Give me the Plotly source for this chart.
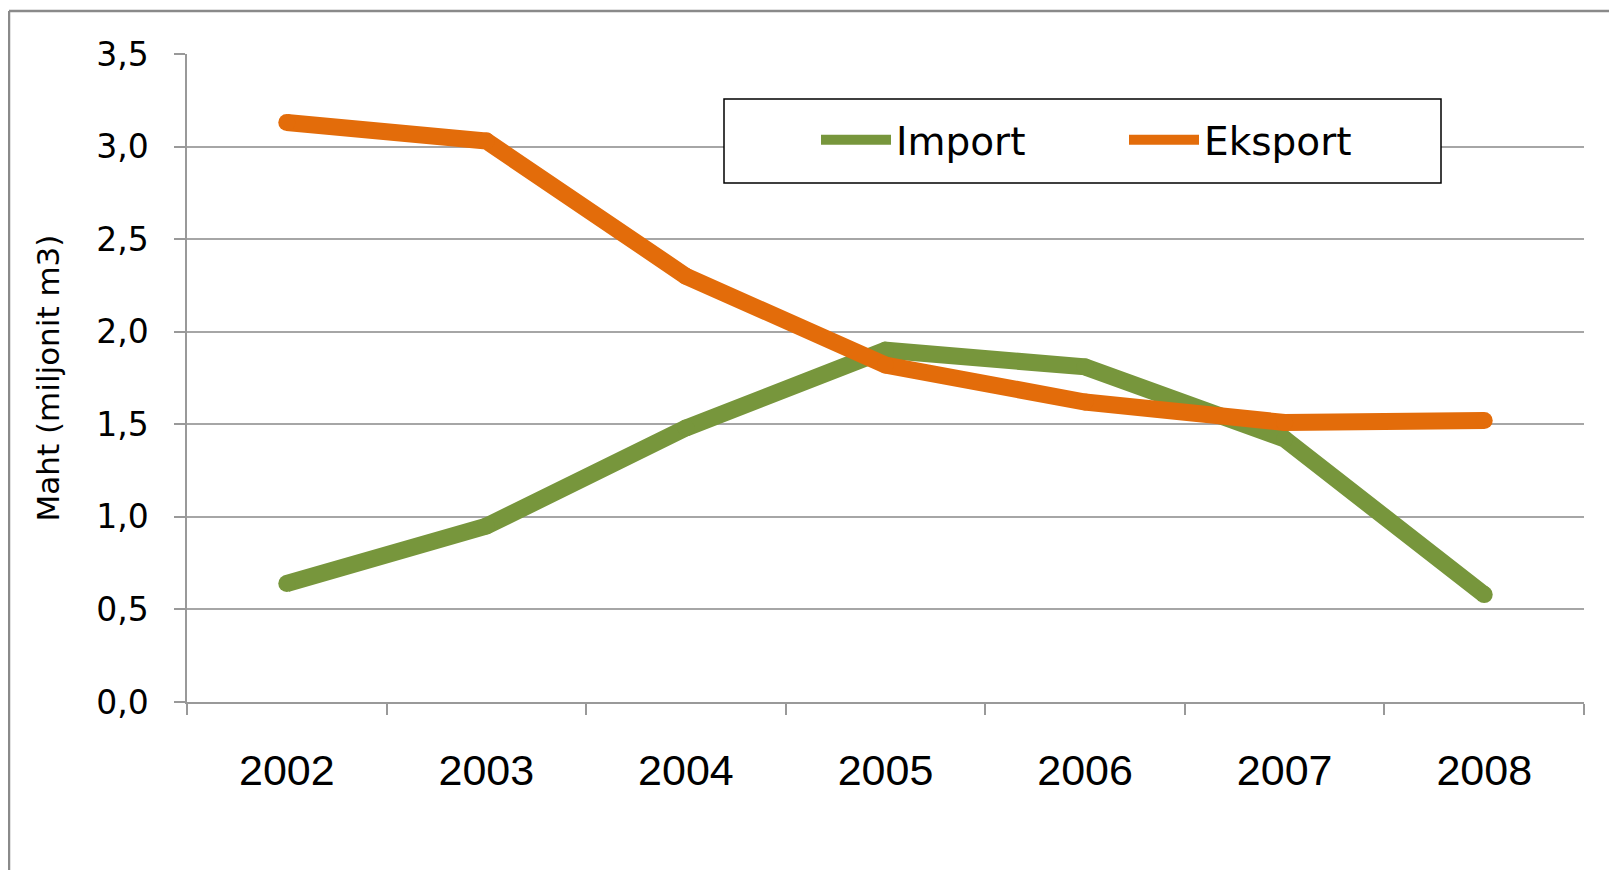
import plotly.graph_objects as go

years = ["2002", "2003", "2004", "2005", "2006", "2007", "2008"]
import_vals = [0.64, 0.95, 1.48, 1.90, 1.81, 1.42, 0.58]
export_vals = [3.13, 3.03, 2.30, 1.82, 1.62, 1.51, 1.52]
y_ticks = [0.0, 0.5, 1.0, 1.5, 2.0, 2.5, 3.0, 3.5]
y_ticktext = ["0,0", "0,5", "1,0", "1,5", "2,0", "2,5", "3,0", "3,5"]

GREEN = "#77963c"
ORANGE = "#e36c0a"
LW = 17

xs = list(range(len(years)))

fig = go.Figure()
for name, vals, col in [("Import", import_vals, GREEN), ("Eksport", export_vals, ORANGE)]:
    fig.add_trace(go.Scatter(x=xs, y=vals, mode="lines", name=name,
                             line=dict(color=col, width=LW)))
    fig.add_trace(go.Scatter(x=xs, y=vals, mode="markers", showlegend=False,
                             marker=dict(color=col, size=LW, line=dict(width=0)),
                             hoverinfo="skip"))

# page body has an 8px margin, so the figure is drawn 8px smaller/shifted
OFF = 8
W, H = 1617 - OFF, 870 - OFF
L, R, T, B = 187 - OFF, 33, 54 - OFF, 168
pw = W - L - R
ph = H - T - B

def px_x(p):
    return (p - OFF - L) / pw

def px_y(p):
    return (H - B - (p - OFF)) / ph

fig.update_layout(
    width=W, height=H,
    margin=dict(l=L, r=R, t=T, b=B, autoexpand=False),
    paper_bgcolor="white", plot_bgcolor="white",
    font=dict(family="DejaVu Sans", color="black"),
    showlegend=True,
    legend=dict(
        orientation="h",
        x=px_x(816), y=px_y(108), xanchor="left", yanchor="top",
        borderwidth=0,
        font=dict(family="DejaVu Sans", size=39, color="black"),
        itemwidth=70,
        entrywidth=223,
        bgcolor="rgba(0,0,0,0)",
    ),
    xaxis=dict(
        range=[-0.5, 6.5],
        tickvals=xs, ticktext=years,
        ticks="", showgrid=False,
        showline=True, linecolor="#999999", linewidth=1.5,
        tickfont=dict(family="Liberation Sans", size=43, color="black"),
        ticklabelstandoff=30,
        minor=dict(tickvals=[i - 0.5 for i in range(len(years) + 1)],
                   ticks="outside", ticklen=11, tickcolor="#999999", tickwidth=1.5,
                   showgrid=False),
        zeroline=False, fixedrange=True,
    ),
    yaxis=dict(
        range=[0, 3.5],
        tickvals=y_ticks, ticktext=y_ticktext,
        ticks="outside", ticklen=11, tickcolor="#999999", tickwidth=1.5,
        showgrid=True, gridcolor="#a6a6a6", gridwidth=1.5,
        showline=True, linecolor="#999999", linewidth=1.5,
        tickfont=dict(family="DejaVu Sans", size=33, color="black"),
        ticklabelstandoff=19,
        title=dict(text="Maht (miljonit m3)", font=dict(family="DejaVu Sans", size=31, color="black"), standoff=27),
        zeroline=False, fixedrange=True,
    ),
)

# legend frame
fig.add_shape(type="rect", xref="paper", yref="paper", layer="above",
              x0=px_x(724), x1=px_x(1441), y0=px_y(183), y1=px_y(99),
              line=dict(color="#000000", width=1.5), fillcolor="white")

# outer chart-area frame (only top and left edges visible in the crop)
fig.add_shape(type="line", xref="paper", yref="paper",
              x0=px_x(9), x1=px_x(9), y0=px_y(11), y1=px_y(880),
              line=dict(color="#8a8a8a", width=2.5))
fig.add_shape(type="line", xref="paper", yref="paper",
              x0=px_x(9), x1=px_x(1630), y0=px_y(11), y1=px_y(11),
              line=dict(color="#8a8a8a", width=2.5))

fig.write_html("out.html")
